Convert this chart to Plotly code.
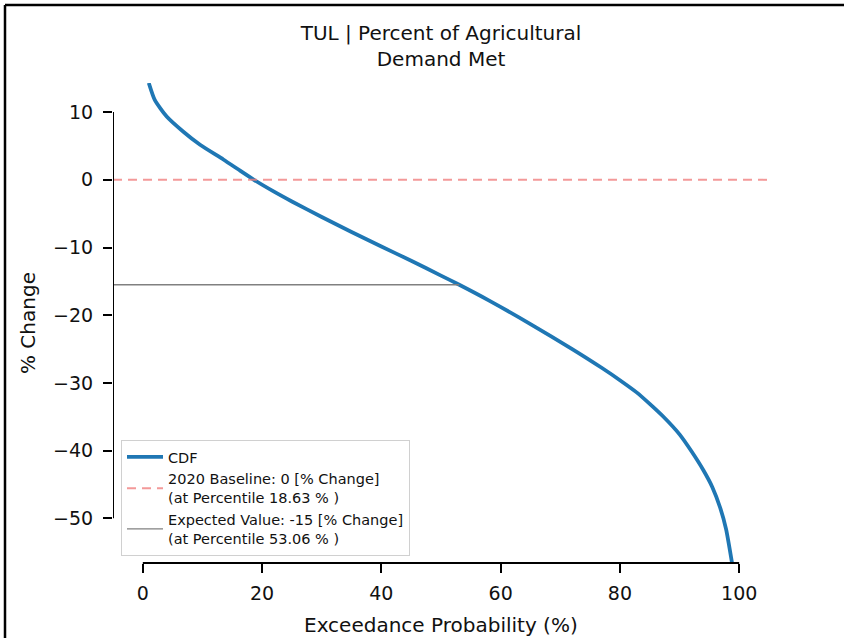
import plotly.graph_objects as go

# Exceedance probability (%) and % change values
exceed_prob = [1.0, 2.0, 4.0, 6.8, 9.6, 13.5, 16.3, 18.63, 22.0, 25.0, 30.0, 35.0,
               40.0, 45.0, 50.0, 53.06, 58.0, 65.0, 72.0, 77.0, 80.0, 82.8, 85.0,
               87.3, 90.0, 92.0, 94.0, 95.5, 96.8, 97.8, 98.8]
pct_change = [14.3, 11.8, 9.35, 7.1, 5.17, 3.0, 1.35, 0.0, -1.75, -3.2, -5.5, -7.7,
              -9.85, -11.95, -14.15, -15.5, -17.8, -21.3, -25.0, -27.8, -29.6, -31.4, -33.1,
              -35.0, -37.6, -40.1, -42.9, -45.4, -48.4, -51.6, -56.6]

baseline_value = 0.0
baseline_pct = 18.63
expected_value = -15.5
expected_pct = 53.06

x_ticks = [0, 20, 40, 60, 80, 100]
y_ticks = [10, 0, -10, -20, -30, -40, -50]

X_RANGE = [-5, 105]
Y_RANGE = [-56.6, 14.3]

W, H = 844, 638
ML, MR, MT, MB = 113, 75, 83, 75
PW = W - ML - MR
PH = H - MT - MB

FONT = "DejaVu Sans"

fig = go.Figure()

fig.add_trace(go.Scatter(
    x=exceed_prob, y=pct_change, mode="lines", name="CDF",
    line=dict(color="#1f77b4", width=3.8, shape="spline", smoothing=0.6),
    cliponaxis=True))

fig.add_trace(go.Scatter(
    x=X_RANGE, y=[baseline_value, baseline_value], mode="lines",
    name="2020 Baseline: 0 [% Change]<br>(at Percentile 18.63 % )",
    line=dict(color="rgba(240,128,128,0.8)", width=2, dash="9px,6px")))

fig.add_trace(go.Scatter(
    x=[X_RANGE[0], expected_pct], y=[expected_value, expected_value], mode="lines",
    name="Expected Value: -15 [% Change]<br>(at Percentile 53.06 % )",
    line=dict(color="gray", width=1.3)))

shapes = [
    # trimmed spines
    dict(type="line", xref="x", yref="y", x0=X_RANGE[0], x1=X_RANGE[0],
         y0=min(y_ticks), y1=max(y_ticks), line=dict(color="black", width=2)),
    dict(type="line", xref="x", yref="paper", x0=min(x_ticks), x1=max(x_ticks),
         y0=0, y1=0, line=dict(color="black", width=2)),
    # image frame
    dict(type="line", xref="paper", yref="paper",
         x0=(5 - ML) / PW, x1=(W - ML) / PW,
         y0=(H - MB - 5) / PH, y1=(H - MB - 5) / PH,
         line=dict(color="black", width=2.5)),
    dict(type="line", xref="paper", yref="paper",
         x0=(5 - ML) / PW, x1=(5 - ML) / PW,
         y0=(H - MB - 5) / PH, y1=-MB / PH,
         line=dict(color="black", width=2.5)),
]

annotations = [
    dict(text="% Change", xref="paper", yref="paper",
         x=(28 - ML) / PW, y=0.5, textangle=-90, showarrow=False,
         font=dict(family=FONT, size=20, color="#111"),
         xanchor="center", yanchor="middle"),
    dict(text="Exceedance Probability (%)", xref="paper", yref="paper",
         x=0.5, y=(H - MB - 625) / PH, showarrow=False,
         font=dict(family=FONT, size=20, color="#111"),
         xanchor="center", yanchor="middle"),
]

fig.update_layout(
    width=W, height=H,
    margin=dict(l=ML, r=MR, t=MT, b=MB),
    paper_bgcolor="white", plot_bgcolor="white",
    font=dict(family=FONT, size=19, color="#111"),
    title=dict(text="TUL | Percent of Agricultural<br>Demand Met",
               x=(ML + PW / 2) / W, xanchor="center",
               y=1 - 40 / H, yanchor="middle",
               font=dict(family=FONT, size=20, color="#111")),
    showlegend=True,
    legend=dict(x=(121 - ML) / PW, y=(H - MB - 556) / PH,
                xanchor="left", yanchor="bottom",
                bgcolor="rgba(255,255,255,0.85)", bordercolor="#d0d0d0", borderwidth=1,
                font=dict(family=FONT, size=14.5, color="#111"),
                tracegroupgap=0, itemwidth=36),
    xaxis=dict(range=X_RANGE, tickvals=x_ticks, showgrid=False, zeroline=False,
               showline=False, ticks="outside", ticklen=9, tickwidth=2,
               tickcolor="black", tickfont=dict(size=19), ticklabelstandoff=4),
    yaxis=dict(range=Y_RANGE, tickvals=y_ticks, showgrid=False, zeroline=False,
               showline=False, ticks="outside", ticklen=9, tickwidth=2,
               tickcolor="black", tickfont=dict(size=19), ticklabelstandoff=6),
    shapes=shapes,
    annotations=annotations,
)

fig.write_html("out.html")
